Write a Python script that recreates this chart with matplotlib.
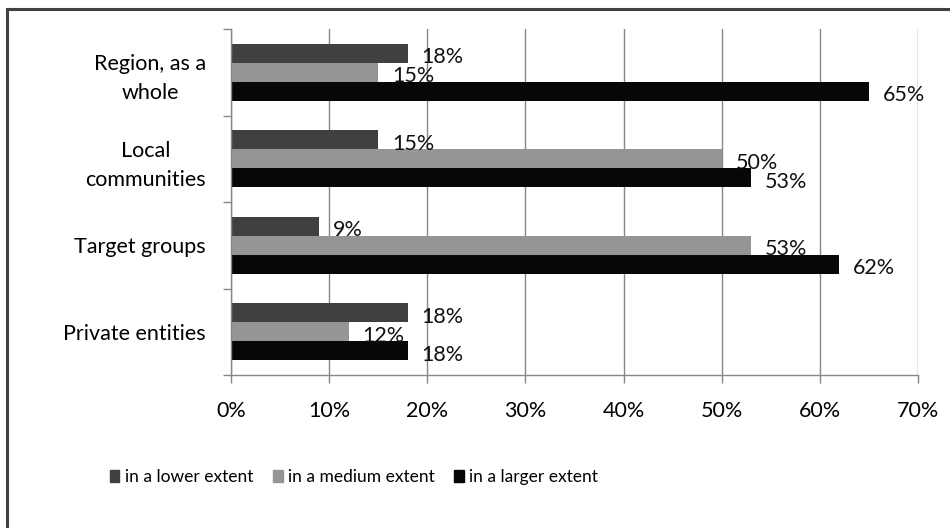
import matplotlib.pyplot as plt
from matplotlib.lines import Line2D
from matplotlib.ticker import FixedLocator, PercentFormatter
import numpy as np

categories = ["Region, as a\nwhole", "Local\ncommunities", "Target groups", "Private entities"]
series_names = ["in a lower extent", "in a medium extent", "in a larger extent"]
lower = [18, 15, 9, 18]
medium = [15, 50, 53, 12]
larger = [65, 53, 62, 18]
colors = ["#404040", "#959595", "#070707"]
x_ticks = [0, 10, 20, 30, 40, 50, 60, 70]

plt.rcParams['font.family'] = ['Lato', 'DejaVu Sans']
plt.rcParams['font.size'] = 15.5

fig = plt.figure(figsize=(9.5, 5.28), dpi=100)
ax = fig.add_axes([231 / 950, 1 - 375 / 528, 687 / 950, 346 / 528])

y = np.arange(len(categories))
bar_h = 0.22
for i, (vals, name, col) in enumerate(zip([lower, medium, larger], series_names, colors)):
    pos = y + (i - 1) * bar_h
    ax.barh(pos, vals, height=bar_h, color=col, label=name, zorder=3)
    for p, v in zip(pos, vals):
        ax.annotate(f"{v}%", (v, p), xytext=(10, -3), textcoords="offset points",
                    ha="left", va="center", color="#111111", zorder=4)

ax.set_xlim(0, 70)
ax.set_ylim(len(categories) - 0.5, -0.5)
ax.set_xticks(x_ticks)
ax.xaxis.set_major_formatter(PercentFormatter(decimals=0))
ax.grid(axis="x", color="#868686", linewidth=1.0, zorder=0)

# category labels sit between the boundary tick marks
ax.set_yticks(y)
ax.set_yticklabels(categories, multialignment="center", linespacing=1.55)
ax.yaxis.set_minor_locator(FixedLocator(np.arange(-0.5, len(categories), 1.0)))
ax.tick_params(axis="y", which="major", length=0, pad=18)
ax.tick_params(axis="y", which="minor", length=6, width=1, color="#868686")
ax.tick_params(axis="x", length=6, width=1, color="#868686", pad=13)

for s in ["top", "right"]:
    ax.spines[s].set_visible(False)
for s in ["left", "bottom"]:
    ax.spines[s].set_color("#868686")
    ax.spines[s].set_linewidth(1.0)
    ax.spines[s].set_zorder(5)

handles = [plt.Rectangle((0, 0), 1, 1, color=c) for c in colors]
fig.legend(handles, series_names, loc="center", bbox_to_anchor=(354 / 950, 1 - 477 / 528),
           ncol=3, frameon=False, fontsize=12.5, handlelength=0.55, handleheight=0.75,
           handletextpad=0.3, columnspacing=1.15)

# outer frame (top and left edges)
fig.add_artist(Line2D([6.5 / 950, 1], [1 - 9 / 528, 1 - 9 / 528], color="#404040", linewidth=2.2))
fig.add_artist(Line2D([6.5 / 950, 6.5 / 950], [0, 1 - 9 / 528], color="#404040", linewidth=2.2))

fig.savefig("out.png", dpi=100)
